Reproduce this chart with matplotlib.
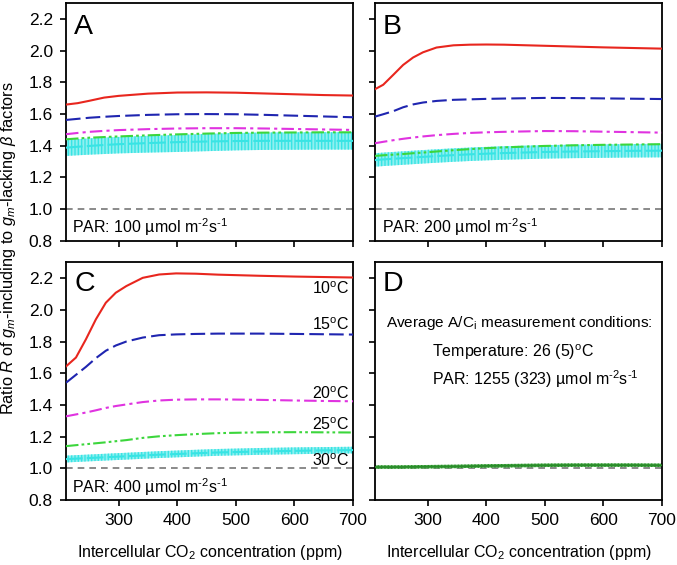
import matplotlib
matplotlib.use("Agg")
import matplotlib.pyplot as plt

plt.rcParams['font.family'] = ['Liberation Sans', 'DejaVu Sans']
plt.rcParams['mathtext.fontset'] = 'custom'
plt.rcParams['mathtext.rm'] = 'Liberation Sans'
plt.rcParams['mathtext.it'] = 'Liberation Sans:italic'
plt.rcParams['mathtext.bf'] = 'Liberation Sans:bold'

# ---------------- data ----------------
ci_A = [210, 230, 250, 275, 300, 350, 400, 450, 500, 550, 600, 650, 700]
red_A = [1.659, 1.668, 1.683, 1.703, 1.714, 1.728, 1.735, 1.736, 1.734, 1.729, 1.724, 1.719, 1.716]
blue_A = [1.562, 1.569, 1.576, 1.582, 1.587, 1.594, 1.598, 1.599, 1.598, 1.594, 1.589, 1.584, 1.579]
mag_A = [1.472, 1.480, 1.487, 1.493, 1.498, 1.504, 1.508, 1.510, 1.510, 1.508, 1.505, 1.502, 1.499]
green_A = [1.440, 1.445, 1.450, 1.454, 1.458, 1.465, 1.471, 1.476, 1.480, 1.482, 1.483, 1.484, 1.484]
cyan_A = [1.387, 1.393, 1.398, 1.404, 1.409, 1.416, 1.422, 1.426, 1.429, 1.430, 1.430, 1.430, 1.430]
cyan_lo_A = [1.335, 1.339, 1.343, 1.347, 1.351, 1.356, 1.360, 1.365, 1.370, 1.373, 1.374, 1.375, 1.375]
cyan_hi_A = [1.436, 1.441, 1.446, 1.451, 1.455, 1.462, 1.467, 1.474, 1.480, 1.483, 1.484, 1.485, 1.485]

ci_B = [210, 224, 241, 258, 275, 292, 315, 344, 372, 400, 430, 500, 550, 600, 650, 700]
red_B = [1.756, 1.784, 1.846, 1.909, 1.956, 1.989, 2.019, 2.033, 2.037, 2.038, 2.037, 2.030, 2.025, 2.020, 2.016, 2.012]
blue_B = [1.583, 1.598, 1.617, 1.642, 1.660, 1.672, 1.682, 1.689, 1.692, 1.695, 1.697, 1.701, 1.700, 1.698, 1.696, 1.694]
mag_B = [1.415, 1.424, 1.434, 1.443, 1.451, 1.458, 1.466, 1.474, 1.480, 1.484, 1.487, 1.492, 1.491, 1.488, 1.485, 1.482]
green_B = [1.335, 1.339, 1.343, 1.347, 1.352, 1.356, 1.363, 1.371, 1.378, 1.384, 1.389, 1.398, 1.402, 1.405, 1.407, 1.409]
cyan_B = [1.309, 1.313, 1.317, 1.321, 1.325, 1.329, 1.334, 1.340, 1.345, 1.349, 1.353, 1.360, 1.363, 1.365, 1.367, 1.368]
cyan_lo_B = [1.267, 1.271, 1.275, 1.279, 1.283, 1.287, 1.292, 1.298, 1.303, 1.307, 1.311, 1.318, 1.321, 1.323, 1.325, 1.326]
cyan_hi_B = [1.352, 1.356, 1.360, 1.364, 1.368, 1.372, 1.377, 1.383, 1.388, 1.392, 1.396, 1.403, 1.406, 1.408, 1.410, 1.412]

ci_C = [210, 227, 244, 261, 278, 295, 313, 341, 369, 398, 432, 470, 540, 600, 650, 700]
red_C = [1.643, 1.699, 1.814, 1.940, 2.045, 2.108, 2.150, 2.202, 2.223, 2.230, 2.228, 2.222, 2.215, 2.210, 2.207, 2.204]
blue_C = [1.540, 1.590, 1.640, 1.695, 1.742, 1.775, 1.800, 1.825, 1.840, 1.845, 1.848, 1.850, 1.850, 1.848, 1.846, 1.844]
mag_C = [1.328, 1.340, 1.352, 1.366, 1.381, 1.393, 1.403, 1.418, 1.428, 1.433, 1.435, 1.435, 1.432, 1.428, 1.425, 1.423]
green_C = [1.140, 1.146, 1.152, 1.158, 1.164, 1.171, 1.178, 1.192, 1.202, 1.209, 1.216, 1.222, 1.227, 1.228, 1.227, 1.226]
cyan_C = [1.058, 1.061, 1.064, 1.067, 1.070, 1.073, 1.076, 1.081, 1.086, 1.090, 1.095, 1.100, 1.106, 1.110, 1.113, 1.115]
cyan_lo_C = [1.037, 1.040, 1.043, 1.046, 1.049, 1.052, 1.055, 1.060, 1.065, 1.069, 1.074, 1.079, 1.085, 1.089, 1.092, 1.094]
cyan_hi_C = [1.080, 1.083, 1.086, 1.089, 1.092, 1.095, 1.098, 1.103, 1.108, 1.112, 1.117, 1.122, 1.128, 1.132, 1.134, 1.136]

ci_D = [210, 250, 300, 350, 400, 450, 500, 550, 600, 650, 700]
avg_D = [1.008, 1.008, 1.010, 1.012, 1.015, 1.017, 1.019, 1.020, 1.020, 1.020, 1.019]
avg_lo_D = [0.997, 0.997, 0.999, 1.001, 1.004, 1.006, 1.008, 1.009, 1.009, 1.009, 1.008]
avg_hi_D = [1.019, 1.019, 1.021, 1.023, 1.026, 1.028, 1.030, 1.031, 1.031, 1.031, 1.030]

ref_line = 1.0
xticks = [300, 400, 500, 600, 700]
yticks = [0.8, 1.0, 1.2, 1.4, 1.6, 1.8, 2.0, 2.2]
temp_labels = ["10", "15", "20", "25", "30"]
par_labels = ["100", "200", "400"]

# ---------------- styles ----------------
C_RED = '#e8261e'
C_BLUE = '#1f25b0'
C_MAG = '#e033e0'
C_GREEN = '#3cd63c'
C_CYAN = '#38e4e4'
C_CYAN_BAND = '#8ff0f0'
C_DGREEN = '#2a8c2a'
UNIT = r" µmol m$^{\text{-}2}$s$^{\text{-}1}$"
FS = 11.5

fig = plt.figure(figsize=(6.77, 5.65), dpi=100)
W, H = 677.0, 565.0
aw = 287 / W
ah = 237.7 / H
axA = fig.add_axes([66 / W, 1 - 240.7 / H, aw, ah])
axB = fig.add_axes([375 / W, 1 - 240.7 / H, aw, ah])
axC = fig.add_axes([66 / W, 1 - 500 / H, aw, ah])
axD = fig.add_axes([375 / W, 1 - 500 / H, aw, ah])

def style(ax, xlab, ylab):
    ax.set_xlim(210, 700)
    ax.set_ylim(0.8, 2.3)
    ax.set_xticks(xticks)
    ax.set_yticks(yticks)
    ax.tick_params(direction='out', length=4.5, width=1.2, labelsize=12.5, pad=5)
    if not xlab:
        ax.set_xticklabels([])
    if not ylab:
        ax.set_yticklabels([])
    else:
        ax.set_yticklabels([f"{v:.1f}" for v in yticks])
    for s in ax.spines.values():
        s.set_linewidth(1.3)
    ax.axhline(ref_line, color='#777777', lw=1.2, ls=(0, (4, 3)), zorder=1)

def draw_set(ax, ci, red, blue, mag, green, cyan, lo, hi):
    ax.fill_between(ci, lo, hi, facecolor=C_CYAN_BAND, edgecolor=C_CYAN,
                    hatch='|||||', linewidth=0, zorder=2)
    ax.plot(ci, cyan, color=C_CYAN, lw=1.5, ls=(0, (8, 2)), zorder=3)
    ax.plot(ci, green, color=C_GREEN, lw=1.5, ls=(0, (6, 1.5, 1.3, 1.5, 1.3, 1.5)), zorder=4)
    ax.plot(ci, mag, color=C_MAG, lw=1.5, ls=(0, (6, 2, 1.5, 2)), zorder=4)
    ax.plot(ci, blue, color=C_BLUE, lw=1.5, ls=(0, (7, 2.5)), zorder=4)
    ax.plot(ci, red, color=C_RED, lw=1.5, zorder=4)

style(axA, False, True)
style(axB, False, False)
style(axC, True, True)
style(axD, True, False)

draw_set(axA, ci_A, red_A, blue_A, mag_A, green_A, cyan_A, cyan_lo_A, cyan_hi_A)
draw_set(axB, ci_B, red_B, blue_B, mag_B, green_B, cyan_B, cyan_lo_B, cyan_hi_B)
draw_set(axC, ci_C, red_C, blue_C, mag_C, green_C, cyan_C, cyan_lo_C, cyan_hi_C)

axD.fill_between(ci_D, avg_lo_D, avg_hi_D, facecolor='#5cb85c', edgecolor=C_DGREEN,
                 hatch='|||||', linewidth=0, zorder=2)
axD.plot(ci_D, avg_D, color=C_DGREEN, lw=1.3, zorder=3)

# panel letters
for ax, letter, yy in [(axA, 'A', 0.952), (axB, 'B', 0.952), (axC, 'C', 0.962), (axD, 'D', 0.962)]:
    ax.text(0.028, yy, letter, transform=ax.transAxes, fontsize=20.5, ha='left', va='top')

# PAR labels
for ax, p, xx in [(axA, par_labels[0], 0.02), (axB, par_labels[1], 0.023), (axC, par_labels[2], 0.02)]:
    ax.text(xx, 0.031, "PAR: " + p + UNIT, transform=ax.transAxes,
            fontsize=FS, ha='left', va='baseline')

# temperature labels in C
for t, yy in zip(temp_labels, [0.868, 0.717, 0.427, 0.294, 0.143]):
    axC.text(0.987, yy, t + r"$^{\mathrm{o}}$C", transform=axC.transAxes,
             fontsize=FS, ha='right', va='baseline')

# D annotations
axD.text(0.038, 0.728, r"Average A/C$_{\mathrm{i}}$ measurement conditions:",
         transform=axD.transAxes, fontsize=11.1, ha='left', va='baseline')
axD.text(0.197, 0.600, r"Temperature: 26 (5)$^{\mathrm{o}}$C",
         transform=axD.transAxes, fontsize=FS, ha='left', va='baseline')
axD.text(0.197, 0.483, "PAR: 1255 (323)" + UNIT,
         transform=axD.transAxes, fontsize=FS, ha='left', va='baseline')

# axis labels
xlab = r"Intercellular CO$_2$ concentration (ppm)"
fig.text(209.5 / W, 1 - 553 / H, xlab, fontsize=FS, ha='center', va='center')
fig.text(518.5 / W, 1 - 553 / H, xlab, fontsize=FS, ha='center', va='center')
fig.text(9 / W, 1 - 248 / H,
         r"Ratio $R$ of $g_m$-including to $g_m$-lacking $\beta$ factors",
         fontsize=11.8, rotation=90, ha='center', va='center')

fig.savefig("out.png", dpi=100)
